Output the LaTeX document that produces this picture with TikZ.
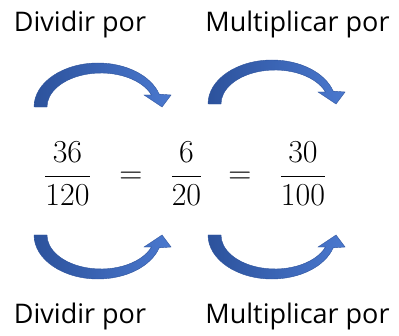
\RequirePackage{fix-cm}
\documentclass[tikz,border=0pt]{standalone}
\usepackage{amsmath}
\usepackage[no-math]{fontspec}
\setmainfont{Open Sans}
\usetikzlibrary{positioning}
\definecolor{arrowdark}{RGB}{44,82,156}
\definecolor{arrowlight}{RGB}{74,120,206}

\begin{document}
\begin{tikzpicture}[x=1pt,y=1pt, every node/.style={inner sep=0pt,anchor=base},
  textlbl/.style={font=\fontsize{27}{32}\selectfont},
  fracnode/.style={font=\fontsize{32}{38}\selectfont},
  curvearrow/.pic={\path[draw=arrowdark,line width=0.4pt,left color=arrowdark,right color=arrowlight]
    (-64,0) arc[start angle=180,end angle=17,x radius=64,y radius=44]
    -- (73,12) -- (64,0) -- (46,12) -- (53.5,12)
    arc[start angle=20.7,end angle=180,x radius=54,y radius=34] -- cycle;}]
\useasboundingbox (0,0) rectangle (399,335);
\node[textlbl] (divtop) at (80,303) {Dividir por};
\node[textlbl] (multop) at (297.5,303) {Multiplicar por};
\node[fracnode] (f1) at (67.5,151) {$\dfrac{36}{120}$};
\node[fracnode] (eq1) at (131,151) {$=$};
\node[fracnode] (f2) at (186.5,151) {$\dfrac{6}{20}$};
\node[fracnode] (eq2) at (240,151) {$=$};
\node[fracnode] (f3) at (303,151) {$\dfrac{30}{100}$};
\node[textlbl] (divbot) at (80,12) {Dividir por};
\node[textlbl] (mulbot) at (297.5,12) {Multiplicar por};
\pic at (98,228) {curvearrow};
\pic at (272,231) {curvearrow};
\pic[yscale=-1] at (98,100) {curvearrow};
\pic[yscale=-1] at (272,100) {curvearrow};
\end{tikzpicture}
\end{document}
